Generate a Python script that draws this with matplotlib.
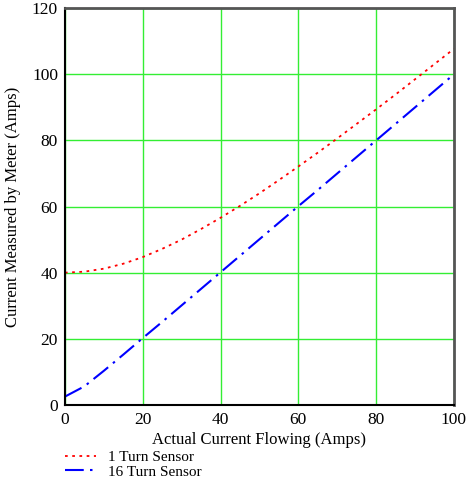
import matplotlib
matplotlib.use("Agg")
import matplotlib.pyplot as plt

plt.rcParams['font.family'] = ['Liberation Serif', 'DejaVu Serif']

# readings taken from the chart (amps)
actual = [0, 5, 10, 15, 20, 25, 30, 35, 40, 45, 50, 55, 60, 65, 70, 75, 80, 85, 90, 95, 100]
one_turn = [40.0, 40.3, 41.2, 42.7, 44.7, 47.2, 50.0, 53.2, 56.6, 60.2, 64.0, 68.0, 72.1, 76.3,
            80.6, 85.0, 89.4, 93.9, 98.5, 103.1, 107.7]
sixteen_turn = [2.5, 5.6, 10.3, 15.2, 20.2, 25.1, 30.1, 35.1, 40.1, 45.1, 50.1, 55.1, 60.1, 65.0,
                70.0, 75.0, 80.0, 85.0, 90.0, 95.0, 100.0]

fig = plt.figure(figsize=(4.67, 4.82), dpi=100)
ax = fig.add_axes([0.139, 0.160, 0.833, 0.823])

ax.plot(actual, one_turn, color='red', linestyle=(0, (1.5, 2.5)), lw=1.3, label='1 Turn Sensor')
ax.plot(actual, sixteen_turn, color='blue', linestyle=(0, (9, 3, 1.2, 3)), lw=1.5,
        label='16 Turn Sensor')

ax.set_xlim(0, 100)
ax.set_ylim(0, 120)
ax.set_xticks(range(0, 101, 20))
ax.set_yticks(range(0, 121, 20))
ax.grid(True, color='#33ee33', lw=1.0)
ax.set_axisbelow(True)
ax.tick_params(length=0, labelsize=12.5, pad=5)

for s in ['left', 'bottom']:
    ax.spines[s].set_color('black')
    ax.spines[s].set_linewidth(1.5)
for s in ['top', 'right']:
    ax.spines[s].set_color('#555555')
    ax.spines[s].set_linewidth(2)

ax.set_xlabel('Actual Current Flowing (Amps)', fontsize=12, labelpad=3)
ax.set_ylabel('Current Measured by Meter (Amps)', fontsize=12, labelpad=8)

ax.legend(loc='upper left', bbox_to_anchor=(-0.015, -0.1), frameon=False, fontsize=11,
          handlelength=2.0, handletextpad=0.8, labelspacing=0.05, borderaxespad=0)

fig.savefig('out.png', dpi=100)
